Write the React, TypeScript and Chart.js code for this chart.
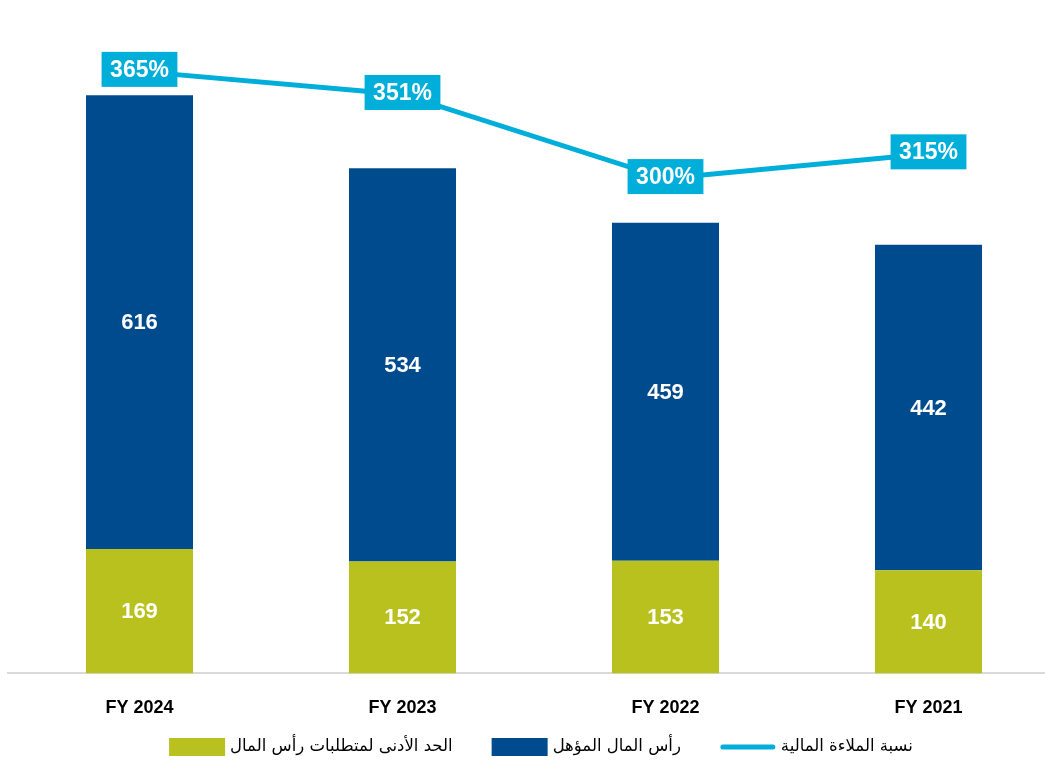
import React, { useEffect, useRef } from "react";
import { Chart, registerables } from "chart.js";

Chart.register(...registerables);

const categories = ["FY 2024", "FY 2023", "FY 2022", "FY 2021"];
const minimumCapital = [169, 152, 153, 140];
const eligibleCapital = [616, 534, 459, 442];
const solvencyRatio = [365, 351, 300, 315];
const seriesNames = [
  "الحد الأدنى لمتطلبات رأس المال",
  "رأس المال المؤهل",
  "نسبة الملاءة المالية",
];

const GREEN = "#B9C11E";
const BLUE = "#004B8D";
const CYAN = "#00AEDA";
const NUM_FONT = "'Liberation Sans', Arial, sans-serif";
const AR_FONT = "'DejaVu Sans', sans-serif";

const labelPlugin = {
  id: "valueLabels",
  afterDatasetsDraw(chart: any) {
    const ctx = chart.ctx;
    ctx.save();
    ctx.textAlign = "center";
    ctx.textBaseline = "middle";
    chart.data.datasets.forEach((ds: any, di: number) => {
      const meta = chart.getDatasetMeta(di);
      meta.data.forEach((el: any, i: number) => {
        const v = ds.data[i];
        if (meta.type === "bar") {
          const p = el.getProps(["x", "y", "base"], true);
          ctx.font = `bold 22px ${NUM_FONT}`;
          ctx.fillStyle = "#ffffff";
          ctx.fillText(String(v), p.x, (p.y + p.base) / 2 + 1);
        } else {
          const text = v + "%";
          ctx.font = `bold 23px ${NUM_FONT}`;
          const w = ctx.measureText(text).width + 17;
          const h = 35;
          const cy = el.y - 2;
          ctx.fillStyle = CYAN;
          ctx.fillRect(el.x - w / 2, cy - h / 2, w, h);
          ctx.fillStyle = "#ffffff";
          ctx.fillText(text, el.x, cy + 1);
        }
      });
    });
    ctx.restore();
  },
};

const legendPlugin = {
  id: "customLegend",
  afterDraw(chart: any) {
    const ctx = chart.ctx;
    ctx.save();
    ctx.font = `16.5px ${AR_FONT}`;
    ctx.textBaseline = "middle";
    ctx.textAlign = "left";
    const boxW = 56;
    const gapBox = 5;
    const gapItem = 39;
    const items = chart.data.datasets.map((ds: any) => ({
      label: ds.label,
      type: ds.type,
      color: ds.type === "line" ? ds.borderColor : ds.backgroundColor,
      tw: ctx.measureText(ds.label).width,
    }));
    const total =
      items.reduce((s: number, it: any) => s + boxW + gapBox + it.tw, 0) +
      gapItem * (items.length - 1);
    let x = 541 - total / 2;
    const cy = 747;
    items.forEach((it: any) => {
      if (it.type === "line") {
        ctx.strokeStyle = it.color;
        ctx.lineWidth = 5;
        ctx.lineCap = "round";
        ctx.beginPath();
        ctx.moveTo(x + 3, cy);
        ctx.lineTo(x + boxW - 3, cy);
        ctx.stroke();
      } else {
        ctx.fillStyle = it.color;
        ctx.fillRect(x, cy - 9, boxW, 18);
      }
      x += boxW + gapBox;
      ctx.fillStyle = "#000000";
      ctx.fillText(it.label, x, cy);
      x += it.tw + gapItem;
    });
    ctx.restore();
  },
};

export default function App() {
  const canvasRef = useRef<HTMLCanvasElement | null>(null);

  useEffect(() => {
    document.documentElement.style.overflow = "hidden";
    document.body.style.margin = "0";
    const canvas = canvasRef.current;
    if (!canvas) return;
    const chart = new Chart(canvas, {
      type: "bar",
      data: {
        labels: categories,
        datasets: [
          {
            type: "bar",
            label: seriesNames[0],
            data: minimumCapital,
            backgroundColor: GREEN,
            stack: "s",
            yAxisID: "y",
            barPercentage: 0.407,
            categoryPercentage: 1,
          },
          {
            type: "bar",
            label: seriesNames[1],
            data: eligibleCapital,
            backgroundColor: BLUE,
            stack: "s",
            yAxisID: "y",
            barPercentage: 0.407,
            categoryPercentage: 1,
          },
          {
            type: "line",
            label: seriesNames[2],
            data: solvencyRatio,
            borderColor: CYAN,
            backgroundColor: CYAN,
            borderWidth: 5,
            pointRadius: 0,
            tension: 0,
            yAxisID: "y2",
          },
        ] as any,
      },
      options: {
        animation: false,
        responsive: true,
        maintainAspectRatio: false,
        layout: { padding: { top: 12, bottom: 19, left: 8, right: 0 } },
        plugins: {
          legend: { display: false },
          tooltip: { enabled: false },
        },
        scales: {
          x: {
            stacked: true,
            grid: { display: false, drawTicks: false },
            border: { color: "#D9D9D9", width: 2 },
            ticks: {
              color: "#000000",
              font: { family: "'Liberation Sans', Arial, sans-serif", weight: "bold", size: 18 },
              padding: 24,
            },
          },
          y: { stacked: true, display: false, min: 0, max: 898 },
          y2: { display: false, min: 0, max: 401, position: "right" },
        },
      } as any,
      plugins: [labelPlugin, legendPlugin],
    });
    return () => chart.destroy();
  }, []);

  return (
    <div style={{ width: 1045, height: 762, overflow: "hidden" }}>
      <div style={{ width: 1060, height: 762, position: "relative" }}>
        <canvas ref={canvasRef} />
      </div>
    </div>
  );
}
